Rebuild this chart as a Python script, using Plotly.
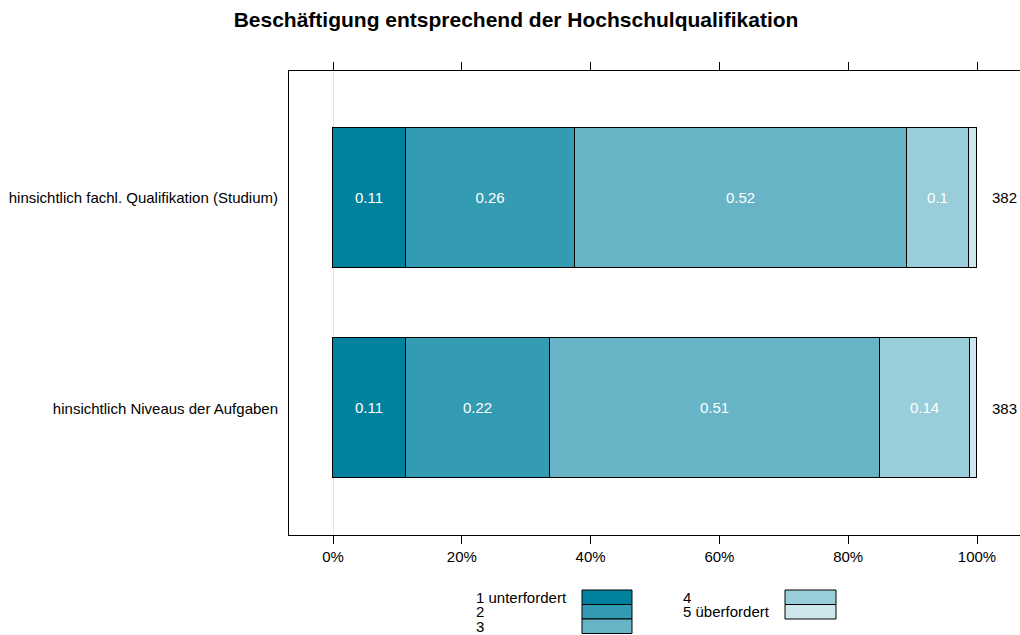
import plotly.graph_objects as go

title = "Beschäftigung entsprechend der Hochschulqualifikation"
items = ["hinsichtlich fachl. Qualifikation (Studium)", "hinsichtlich Niveaus der Aufgaben"]
n_resp = [382, 383]
levels = ["1 unterfordert", "2", "3", "4", "5 überfordert"]
shares = [
    [0.113, 0.113],  # 1 unterfordert
    [0.262, 0.224],  # 2
    [0.516, 0.512],  # 3
    [0.096, 0.140],  # 4
    [0.013, 0.011],  # 5 überfordert
]
colors = ["#00829F", "#339BB2", "#66B4C5", "#99CDD9", "#CCE6EC"]
xticks = [0, 0.2, 0.4, 0.6, 0.8, 1.0]
xticklabels = ["0%", "20%", "40%", "60%", "80%", "100%"]

W, H = 1020, 635
L, R, T, B = 289, 0, 71, 100
pw, ph = W - L - R, H - T - B
FONT = "Liberation Sans, Arial, Helvetica, sans-serif"

ypos = list(range(1, len(items) + 1))

fig = go.Figure()
for lev, vals, col in zip(levels, shares, colors):
    fig.add_trace(go.Bar(
        y=ypos, x=vals, orientation="h", name=lev,
        marker=dict(color=col, line=dict(color="black", width=1)),
        width=0.664,
        text=[f"{round(v, 2):g}" if v >= 0.05 else "" for v in vals],
        textposition="inside", insidetextanchor="middle", textangle=0,
        insidetextfont=dict(color="white", size=15, family=FONT),
        showlegend=False, hoverinfo="skip",
    ))

for yp, n in zip(ypos, n_resp):
    fig.add_annotation(x=1.02, y=yp, xref="x", yref="y", text=str(n), showarrow=False,
                       xanchor="left", yanchor="middle",
                       font=dict(size=15, color="black"))


def px2paper_x(px):
    return (px - L) / pw


def px2paper_y(py):
    return (T + ph - py) / ph


legend_layout = [
    (476, 582, 632, 0), (476, 582, 632, 1), (476, 582, 632, 2),
    (683, 785, 836, 0), (683, 785, 836, 1),
]
row_tops = [590, 604.5, 619]
row_h = 14.5
for (tx, rx0, rx1, row), lev, col in zip(legend_layout, levels, colors):
    y0 = row_tops[row]
    fig.add_shape(type="rect", xref="paper", yref="paper",
                  x0=px2paper_x(rx0), x1=px2paper_x(rx1),
                  y0=px2paper_y(y0 + row_h), y1=px2paper_y(y0),
                  fillcolor=col, line=dict(color="black", width=1))
    fig.add_annotation(xref="paper", yref="paper", x=px2paper_x(tx - 2), y=px2paper_y(y0 + row_h / 2),
                       text=lev, showarrow=False, xanchor="left", yanchor="middle",
                       font=dict(size=15, color="black"))

x0px = 333
scale = 644
fig.update_layout(
    width=W, height=H,
    margin=dict(l=L, r=R, t=T, b=B),
    plot_bgcolor="white", paper_bgcolor="white",
    barmode="stack", bargap=0,
    font=dict(family=FONT, size=15, color="black"),
    title=dict(text=f"<b>{title}</b>", x=516 / W, xanchor="center",
               y=1 - 20 / H, yanchor="middle",
               font=dict(size=21, color="black")),
    xaxis=dict(
        range=[-(x0px - L) / scale, (W - R - x0px) / scale],
        tickvals=xticks, ticktext=xticklabels,
        ticks="outside", ticklen=8, tickcolor="black", tickwidth=1,
        showline=True, linecolor="black", linewidth=1, mirror="ticks",
        showgrid=False, zeroline=True, zerolinecolor="#e3e3e3", zerolinewidth=1,
        tickfont=dict(size=15),
    ),
    yaxis=dict(
        range=[2.6, 0.4], tickvals=ypos, ticktext=items,
        ticks="", showline=True, linecolor="black", linewidth=1, mirror=False,
        showgrid=False, zeroline=False, tickfont=dict(size=15),
        ticklabelstandoff=7,
    ),
)

fig.write_html(
    "out.html",
    config={"displayModeBar": False},
    post_script="document.body.style.margin='0px';document.body.style.overflow='hidden';",
)
